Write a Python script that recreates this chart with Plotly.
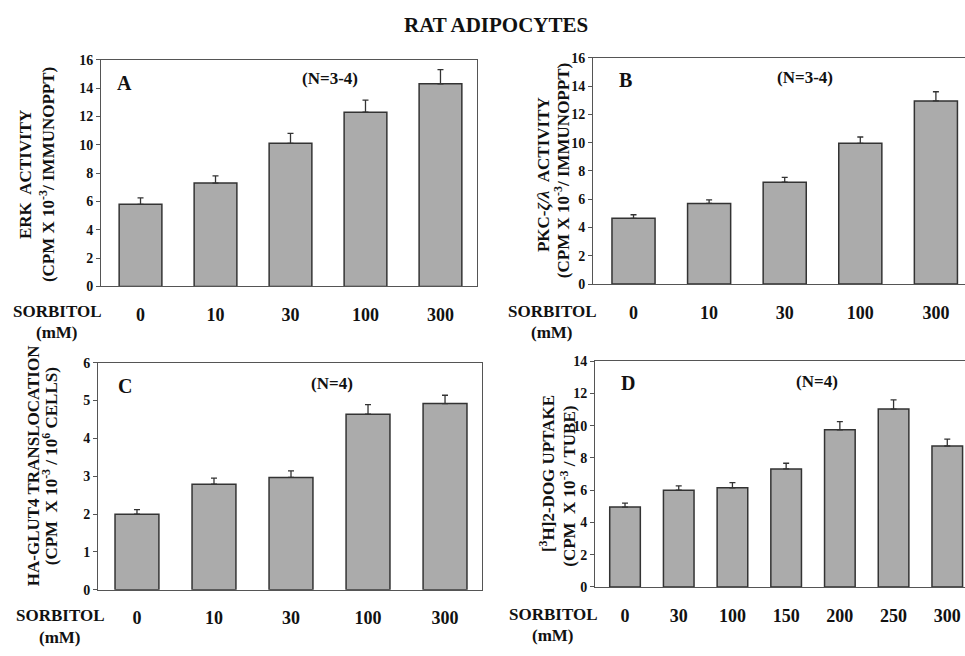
import plotly.graph_objects as go

W, H = 965, 656

# ---------------- data ----------------
cats_a = ["0", "10", "30", "100", "300"]
erk_vals = [5.8, 7.3, 10.1, 12.3, 14.3]
erk_err = [0.45, 0.5, 0.7, 0.85, 1.0]

cats_b = ["0", "10", "30", "100", "300"]
pkc_vals = [4.65, 5.7, 7.2, 9.95, 12.95]
pkc_err = [0.25, 0.25, 0.35, 0.45, 0.65]

cats_c = ["0", "10", "30", "100", "300"]
glut_vals = [2.0, 2.79, 2.97, 4.64, 4.92]
glut_err = [0.12, 0.16, 0.17, 0.25, 0.22]

cats_d = ["0", "30", "100", "150", "200", "250", "300"]
dog_vals = [4.95, 6.0, 6.15, 7.32, 9.75, 11.03, 8.74]
dog_err = [0.25, 0.27, 0.32, 0.35, 0.5, 0.57, 0.43]

FONT = "Liberation Serif"
BAR_FILL = "#ababab"
EDGE = "#333333"
AXC = "#555555"


def px(x):
    return x / W


def py(y):
    return 1 - y / H


fig = go.Figure()

panels = [
    (cats_a, erk_vals, erk_err, "", (101, 477), (54, 286), [-0.527, 4.487], [0, 16], 2, True),
    (cats_b, pkc_vals, pkc_err, "2", (593, 965), (52, 283.5), [-0.536, 4.385], [0, 16], 2, False),
    (cats_c, glut_vals, glut_err, "3", (98, 482), (364, 596.5), [-0.506, 4.48], [0, 6], 1, True),
    (cats_d, dog_vals, dog_err, "4", (595, 965), (362.5, 593.5), [-0.559, 6.33], [0, 14], 2, False),
]

for cats, vals, err, sfx, xd, yd, xr, yr, dt, mir in panels:
    fig.add_trace(go.Bar(
        x=cats, y=vals, width=0.57,
        marker=dict(color=BAR_FILL, line=dict(color=EDGE, width=1.5)),
        error_y=dict(type="data", symmetric=False, array=err,
                     arrayminus=[0] * len(err), thickness=1.3, width=3, color=EDGE),
        xaxis="x" + sfx, yaxis="y" + sfx, showlegend=False, hoverinfo="skip",
    ))
    xa = dict(
        domain=[px(xd[0]), px(xd[1])], anchor="y" + sfx, type="category",
        range=xr, showline=True, linecolor=AXC, linewidth=1, mirror=True,
        ticks="", showgrid=False, zeroline=False,
        tickfont=dict(family=FONT, size=18, color="#111", weight="bold"),
        ticklabelstandoff=12,
    )
    ya = dict(
        domain=[py(yd[1]), py(yd[0])], anchor="x" + sfx, range=yr, dtick=dt,
        showline=True, linecolor=AXC, linewidth=1, mirror=mir,
        ticks="outside", ticklen=4, tickcolor=AXC, showgrid=False, zeroline=False,
        tickfont=dict(family=FONT, size=14, color="#111", weight="bold"),
    )
    fig.layout["xaxis" + sfx] = xa
    fig.layout["yaxis" + sfx] = ya

annos = []


def txt(x, y, s, size, angle=0):
    annos.append(dict(
        x=px(x), y=py(y), xref="paper", yref="paper", text=s, showarrow=False,
        textangle=angle, xanchor="center", yanchor="middle",
        font=dict(family=FONT, size=size, color="#111", weight="bold"),
    ))


txt(496, 18, "RAT ADIPOCYTES", 21)

# panel letters and N labels
txt(125, 78, "A", 20)
txt(330, 73, "(N=3-4)", 17)
txt(625, 75, "B", 20)
txt(805, 72, "(N=3-4)", 17)
txt(125, 388, "C", 20)
txt(332, 385, "(N=4)", 17)
txt(628, 385, "D", 20)
txt(817, 383, "(N=4)", 17)

# sorbitol labels
for (sx, sy1, sy2) in [(57, 312, 333), (552, 312, 333), (60, 623, 645), (553, 622, 643)]:
    txt(sx, sy1, "SORBITOL", 17)
    txt(sx, sy2, "(mM)", 17)

# y-axis titles (each line placed separately)
txt(25, 172, "ERK  ACTIVITY", 17, -90)
txt(47, 172, "(CPM X 10<sup>-3</sup>/ IMMUNOPPT)", 17, -90)
txt(543, 172, "PKC-<i>ζ/λ</i>  ACTIVITY", 17, -90)
txt(562, 168, "(CPM X 10<sup>-3</sup>/ IMMUNOPPT)", 17, -90)
txt(33, 470, "HA-GLUT4 TRANSLOCATION", 17, -90)
txt(50, 470, "(CPM  X 10<sup>-3</sup> / 10<sup>6</sup> CELLS)", 17, -90)
txt(547, 478, "[<sup>3</sup>H]2-DOG UPTAKE", 17, -90)
txt(568, 491, "(CPM  X 10<sup>-3</sup> / TUBE)", 17, -90)

fig.update_layout(
    width=W, height=H, margin=dict(l=0, r=0, t=0, b=0),
    paper_bgcolor="white", plot_bgcolor="white",
    annotations=annos,
    font=dict(family=FONT),
)

fig.write_html(
    "out.html",
    config={"displayModeBar": False},
    post_script="document.body.style.margin='0';document.body.style.overflow='hidden';",
)
